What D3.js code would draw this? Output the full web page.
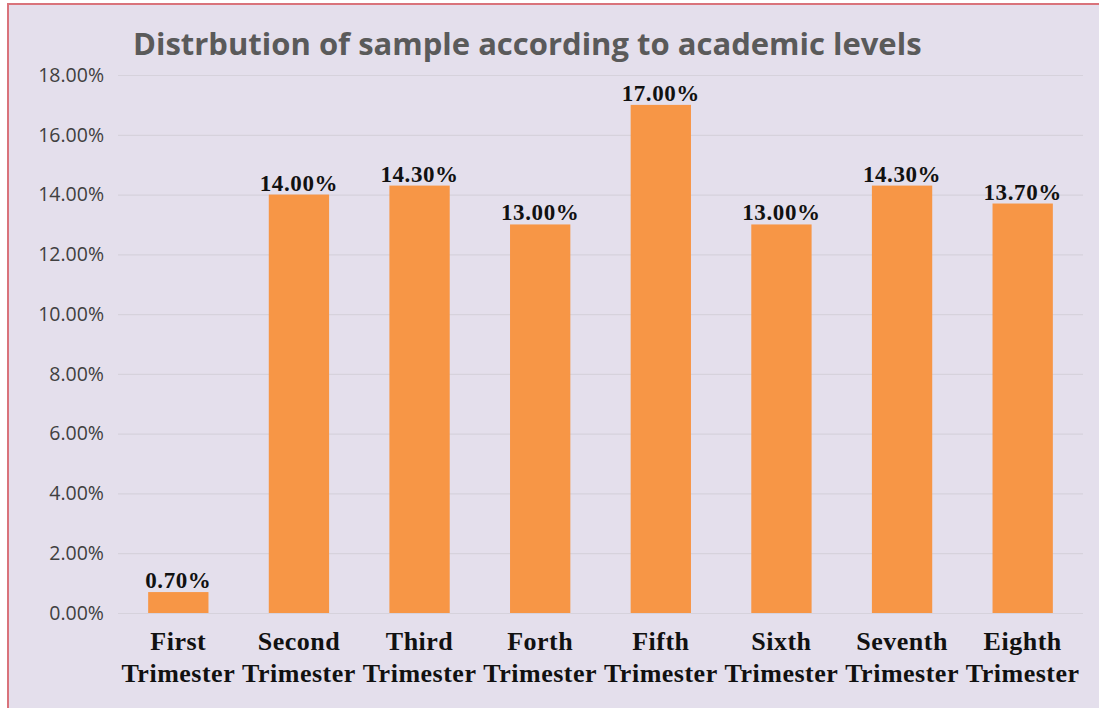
<!DOCTYPE html>
<html>
<head>
<meta charset="utf-8">
<script src="https://cdn.jsdelivr.net/npm/d3@7"></script>
<style>
  body { margin: 0; background: #fff; }
  svg { display: block; }
</style>
</head>
<body>
<svg width="1099" height="708"></svg>
<script>
// data
var levels = ["First", "Second", "Third", "Forth", "Fifth", "Sixth", "Seventh", "Eighth"];
var shares = [0.7, 14.0, 14.3, 13.0, 17.0, 13.0, 14.3, 13.7];
var yTicks = [0, 2, 4, 6, 8, 10, 12, 14, 16, 18];

var svg = d3.select("svg");

// panel background with the red edge on top and left
svg.append("rect")
    .attr("x", 7).attr("y", 3)
    .attr("width", 1092).attr("height", 705)
    .style("fill", "#e4dfec");
svg.append("line")
    .attr("x1", 7).attr("x2", 1099).attr("y1", 4).attr("y2", 4)
    .style("stroke", "#d9737b").style("stroke-width", 2);
svg.append("line")
    .attr("x1", 8).attr("x2", 8).attr("y1", 3).attr("y2", 708)
    .style("stroke", "#d9737b").style("stroke-width", 2);

var margin = { top: 75, right: 16, bottom: 95, left: 118 };
var width = 1099 - margin.left - margin.right,
    height = 708 - margin.top - margin.bottom;

var x = d3.scaleBand().domain(levels).range([0, width]).paddingInner(0.5).paddingOuter(0.25),
    y = d3.scaleLinear().domain([0, 18]).range([height, 0]);

svg.append("text")
    .attr("x", 133).attr("y", 55)
    .style("font-family", "'Open Sans', sans-serif")
    .style("font-weight", "bold")
    .style("font-size", "31px")
    .style("fill", "#5a5a5a")
    .text("Distrbution of sample according to academic levels");

var g = svg.append("g")
    .attr("transform", "translate(" + margin.left + "," + margin.top + ")");

// gridlines + y labels
var yAxis = g.append("g")
    .attr("class", "axis axis--y")
    .call(d3.axisLeft(y).tickValues(yTicks).tickSize(-width).tickPadding(14)
        .tickFormat(function (d) { return d3.format(".2f")(d) + "%"; }));
yAxis.select(".domain").remove();
yAxis.selectAll(".tick line").style("stroke", "#d6d2dc").style("stroke-width", 1.2);
yAxis.selectAll(".tick text")
    .style("font-family", "'Open Sans', sans-serif")
    .style("font-size", "19.5px")
    .style("fill", "#404040");

g.selectAll(".bar")
  .data(shares)
  .enter().append("rect")
    .attr("class", "bar")
    .attr("x", function (d, i) { return x(levels[i]); })
    .attr("y", function (d) { return y(d); })
    .attr("width", x.bandwidth())
    .attr("height", function (d) { return height - y(d); })
    .style("fill", "#f79646");

g.selectAll(".val")
  .data(shares)
  .enter().append("text")
    .attr("class", "val")
    .attr("x", function (d, i) { return x(levels[i]) + x.bandwidth() / 2; })
    .attr("y", function (d) { return y(d) - 4; })
    .attr("text-anchor", "middle")
    .style("font-family", "'Liberation Serif', 'Times New Roman', serif")
    .style("font-weight", "bold")
    .style("font-size", "23px")
    .style("letter-spacing", "0.6px")
    .style("fill", "#111")
    .text(function (d) { return d3.format(".2f")(d) + "%"; });

// category labels, two lines each
var lab = g.selectAll(".cat")
  .data(levels)
  .enter().append("text")
    .attr("class", "cat")
    .attr("text-anchor", "middle")
    .attr("transform", function (d) { return "translate(" + (x(d) + x.bandwidth() / 2) + "," + (height + 37) + ")"; })
    .style("font-family", "'Liberation Serif', 'Times New Roman', serif")
    .style("font-weight", "bold")
    .style("font-size", "26px")
    .style("letter-spacing", "0.5px")
    .style("fill", "#111");
lab.append("tspan").attr("x", 0).attr("y", 0).text(function (d) { return d; });
lab.append("tspan").attr("x", 0).attr("y", 32).text("Trimester");
</script>
</body>
</html>
